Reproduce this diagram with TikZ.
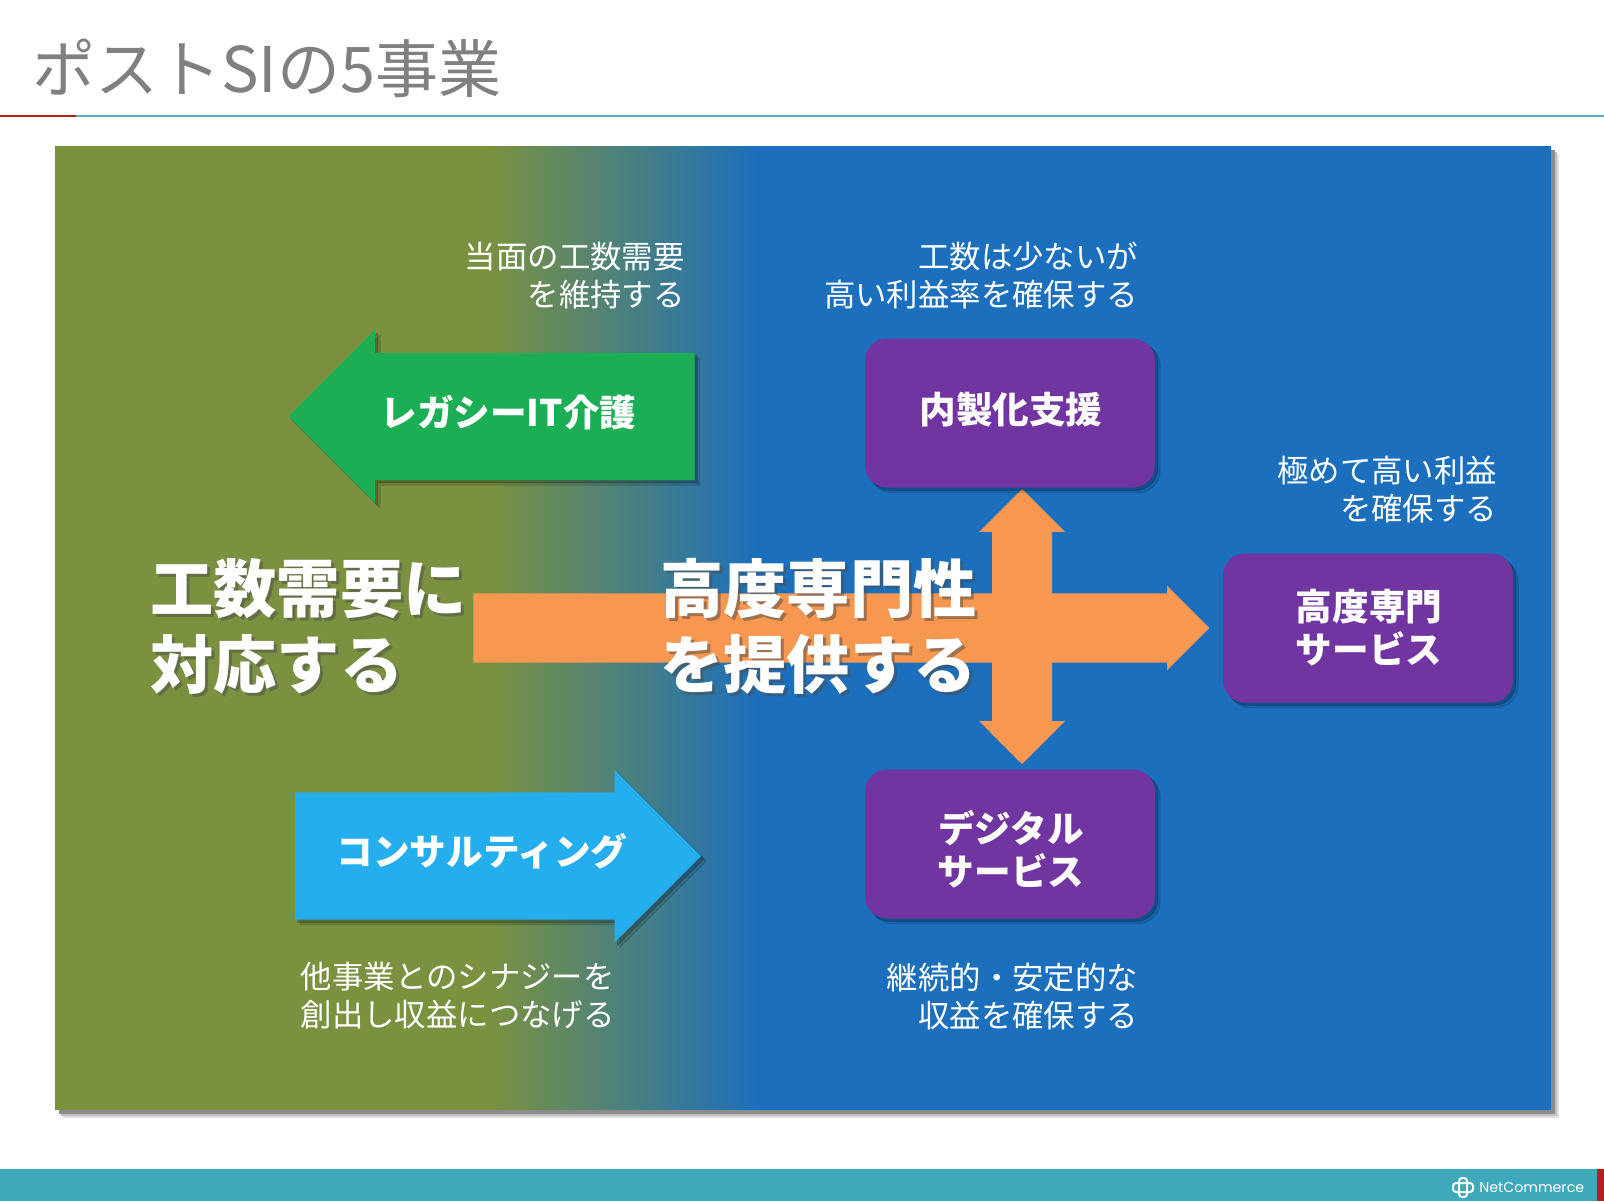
\documentclass[tikz,border=0pt]{standalone}
\usepackage{fontspec}
\setmainfont{Noto Sans CJK JP}
\newfontfamily\logofont{Poppins}
\usetikzlibrary{shapes.arrows,shadows,positioning}
\definecolor{olivebg}{HTML}{7A9140}
\definecolor{bluebg}{HTML}{1B6FBD}
\definecolor{tealbar}{HTML}{3FA9BC}
\definecolor{redbar}{HTML}{B5201A}
\definecolor{greenarr}{HTML}{1CAE55}
\definecolor{cyanarr}{HTML}{25AEEE}
\definecolor{purplebox}{HTML}{7035A0}
\definecolor{orangearr}{HTML}{F79750}
\newcommand{\bigtext}[3]{%
  \node[bigtext, text=black!70, opacity=.5, xshift=1.5pt, yshift=-1.5pt] at #2 {#3};
  \node[bigtext] (#1) at #2 {#3};}

\begin{document}
\begin{tikzpicture}[
    x=0.5pt, y=-0.5pt,
    softshadow/.style={
      copy shadow={shadow xshift=2.6pt, shadow yshift=-2.6pt, fill=black, opacity=.12},
      copy shadow={shadow xshift=1.4pt, shadow yshift=-1.4pt, fill=black, opacity=.18}},
    service/.style={rectangle, rounded corners=11pt, fill=purplebox, softshadow,
      minimum width=145pt, minimum height=74.5pt, inner sep=0pt},
    bigarrow/.style={single arrow, single arrow head extend=11.4pt, minimum height=203pt,
      inner xsep=0pt, inner ysep=31.6pt, outer sep=0pt, anchor=tip, softshadow},
    arrowtext/.style={text=white, inner sep=0pt, align=center,
      font=\fontsize{18.3}{21.5}\selectfont\bfseries},
    caption/.style={text=white, align=right, inner sep=0pt, anchor=east,
      font=\fontsize{15.7}{19}\selectfont},
    bigtext/.style={text=white, align=left, inner sep=0pt, anchor=west,
      font=\fontsize{31.6}{38}\selectfont\bfseries}
  ]
  \useasboundingbox (0,0) rectangle (1604,1201);
  % header and footer
  \node[text=black!50, inner sep=0pt, anchor=west, font=\fontsize{31.5}{36}\selectfont] (title) at (32,68) {ポストSIの5事業};
  \fill[redbar] (0,115) rectangle (76,117);
  \fill[tealbar!90!white] (76,115) rectangle (1604,117);
  \fill[tealbar] (0,1169) rectangle (1604,1201);
  \fill[redbar] (1597,1169) rectangle (1604,1201);
  \node[text=white, inner sep=0pt, anchor=west, font=\logofont\fontsize{7.1}{9}\selectfont] (logo) at (1479,1188) {NetCommerce};
  \draw[white, line width=1pt, rounded corners=1.5pt] (1453,1183) rectangle (1473,1192) (1459,1178) rectangle (1467,1197);
  % panel
  \foreach \s/\c in {8/12,6/25,4/45}
    \fill[black!\c] (55+\s,146+\s) rectangle (1551+\s,1110+\s);
  \fill[olivebg] (55,146) rectangle (491,1110);
  \fill[bluebg] (740,146) rectangle (1551,1110);
  \shade[left color=olivebg, right color=bluebg] (490,146.6) rectangle (760,1109);
  \fill[bluebg] (759,146) rectangle (1551,1110);
  % orange arrows
  \node[single arrow, fill=orangearr, single arrow head extend=3.9pt, minimum height=368pt,
    inner xsep=0pt, inner ysep=17.1pt, anchor=tip] (core) at (1210,628) {};
  \node[double arrow, fill=orangearr, double arrow head extend=6.4pt, minimum height=137.5pt,
    inner xsep=0pt, inner ysep=14.8pt, rotate=90] (branch) at (1022,626.5) {};
  % arrows for the left side
  \node[bigarrow, fill=greenarr, rotate=180] (legacy) at (288.5,416.4) {};
  \node[arrowtext] (legacytext) at (508.5,413) {レガシーIT介護};
  \node[bigarrow, fill=cyanarr] (consult) at (701,856) {};
  \node[arrowtext] (consulttext) at (482,851) {コンサルティング};
  % services
  \node[service] (insource) at (1010,413) {};
  \node[arrowtext] (insourcetext) at (1011,410) {内製化支援};
  \node[service] (digital) at (1010,844) {};
  \node[arrowtext] (digitaltext) at (1011,849) {デジタル\\サービス};
  \node[service] (expert) at (1368,628) {};
  \node[arrowtext] (experttext) at (1369,628) {高度専門\\サービス};
  % big statements
  \bigtext{demand}{(150,626)}{工数需要に\\対応する}
  \bigtext{expertise}{(660,626)}{高度専門性\\を提供する}
  % captions
  \node[caption] (capleg) at (685,276) {当面の工数需要\\を維持する};
  \node[caption] (capins) at (1138.5,276) {工数は少ないが\\高い利益率を確保する};
  \node[caption] (capexp) at (1497.5,490) {極めて高い利益\\を確保する};
  \node[caption] (capcon) at (615,996) {他事業とのシナジーを\\創出し収益につなげる};
  \node[caption] (capdig) at (1138.5,996) {継続的・安定的な\\収益を確保する};
\end{tikzpicture}
\end{document}
